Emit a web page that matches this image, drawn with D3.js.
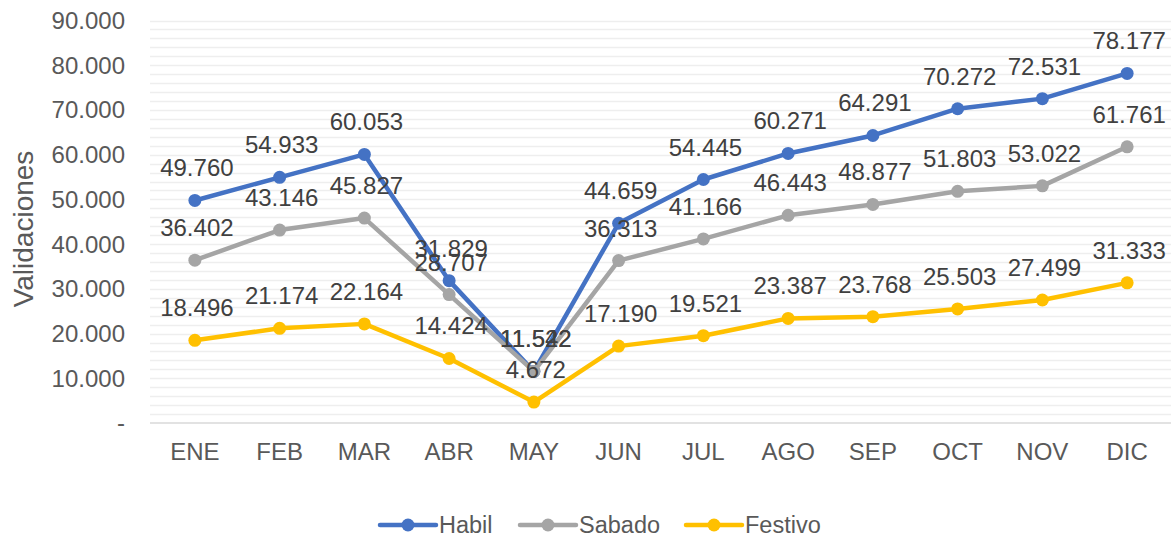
<!DOCTYPE html>
<html>
<head>
<meta charset="utf-8">
<script src="https://cdn.jsdelivr.net/npm/d3@7"></script>
<style>
  body { margin: 0; background: #fff; }
  svg text { font-family: "Liberation Sans", Arial, sans-serif; }
</style>
</head>
<body>
<div id="chart"></div>
<script>
// Datos
var months = ['ENE', 'FEB', 'MAR', 'ABR', 'MAY', 'JUN', 'JUL', 'AGO', 'SEP', 'OCT', 'NOV', 'DIC'];
var habil = [49760, 54933, 60053, 31829, 11522, 44659, 54445, 60271, 64291, 70272, 72531, 78177];
var sabado = [36402, 43146, 45827, 28707, 11542, 36313, 41166, 46443, 48877, 51803, 53022, 61761];
var festivo = [18496, 21174, 22164, 14424, 4672, 17190, 19521, 23387, 23768, 25503, 27499, 31333];
var yTicks = [0, 10000, 20000, 30000, 40000, 50000, 60000, 70000, 80000, 90000];

var series = [
  {name: 'Habil', values: habil, color: '#4472C4'},
  {name: 'Sabado', values: sabado, color: '#A5A5A5'},
  {name: 'Festivo', values: festivo, color: '#FFC000'}
];

var W = 1173, H = 537;
var margin = {left: 152.5, right: 3.5, top: 20.5, bottom: 114};

var svg = d3.select('#chart').append('svg')
  .attr('width', W)
  .attr('height', H);

var x = d3.scaleBand()
  .domain(months)
  .range([margin.left, W - margin.right]);

var y = d3.scaleLinear()
  .domain([0, 90000])
  .range([H - margin.bottom, margin.top]);

var fmt = function(v) {
  if (v === 0) return '-';
  return d3.format(',')(v).replace(/,/g, '.');
};

// minor gridlines every 2000
var grid = d3.range(2000, 90001, 2000);
svg.append('g').selectAll('line')
  .data(grid)
  .enter().append('line')
  .attr('x1', 150).attr('x2', W - 2)
  .attr('y1', function(d) { return Math.round(y(d)) + 0.5; })
  .attr('y2', function(d) { return Math.round(y(d)) + 0.5; })
  .style('stroke', '#eeeeee')
  .style('stroke-width', 1.5);

// baseline
svg.append('line')
  .attr('x1', 150).attr('x2', W - 2)
  .attr('y1', y(0)).attr('y2', y(0))
  .style('stroke', '#d9d9d9')
  .style('stroke-width', 1.5);

// y axis labels
svg.append('g').selectAll('text')
  .data(yTicks)
  .enter().append('text')
  .attr('x', 125)
  .attr('y', function(d) { return y(d); })
  .attr('dy', '0.35em')
  .attr('text-anchor', 'end')
  .style('font-size', '24px')
  .style('fill', '#595959')
  .text(fmt);

// x axis labels
svg.append('g').selectAll('text')
  .data(months)
  .enter().append('text')
  .attr('x', function(d) { return x(d) + x.bandwidth() / 2; })
  .attr('y', 460)
  .attr('text-anchor', 'middle')
  .style('font-size', '24px')
  .style('fill', '#595959')
  .text(function(d) { return d; });

// y axis title
svg.append('text')
  .attr('transform', 'translate(33,229) rotate(-90)')
  .attr('text-anchor', 'middle')
  .style('font-size', '28px')
  .style('fill', '#595959')
  .text('Validaciones');

var line = d3.line()
  .x(function(d, i) { return x(months[i]) + x.bandwidth() / 2; })
  .y(function(d) { return y(d); });

// lines and markers
series.forEach(function(s) {
  var g = svg.append('g');
  g.append('path')
    .datum(s.values)
    .attr('d', line)
    .style('fill', 'none')
    .style('stroke', s.color)
    .style('stroke-width', 4.5)
    .style('stroke-linejoin', 'round');
  g.selectAll('circle')
    .data(s.values)
    .enter().append('circle')
    .attr('cx', function(d, i) { return x(months[i]) + x.bandwidth() / 2; })
    .attr('cy', function(d) { return y(d); })
    .attr('r', 6.5)
    .style('fill', s.color);
});

// data labels
series.forEach(function(s) {
  svg.append('g').selectAll('text')
    .data(s.values)
    .enter().append('text')
    .attr('x', function(d, i) { return x(months[i]) + x.bandwidth() / 2 + 2; })
    .attr('y', function(d) { return y(d) - 24; })
    .attr('text-anchor', 'middle')
    .style('font-size', '24px')
    .style('fill', '#404040')
    .text(fmt);
});

// legend
var legendX = [380, 520, 686];
var legend = svg.append('g');
series.forEach(function(s, i) {
  var lx = legendX[i], ly = 525;
  legend.append('line')
    .attr('x1', lx).attr('x2', lx + 56)
    .attr('y1', ly).attr('y2', ly)
    .style('stroke', s.color)
    .style('stroke-width', 4.5)
    .style('stroke-linecap', 'round');
  legend.append('circle')
    .attr('cx', lx + 28).attr('cy', ly)
    .attr('r', 6.5)
    .style('fill', s.color);
  legend.append('text')
    .attr('x', lx + 59).attr('y', ly)
    .attr('dy', '0.36em')
    .style('font-size', '23.5px')
    .style('fill', '#595959')
    .text(s.name);
});
</script>
</body>
</html>
